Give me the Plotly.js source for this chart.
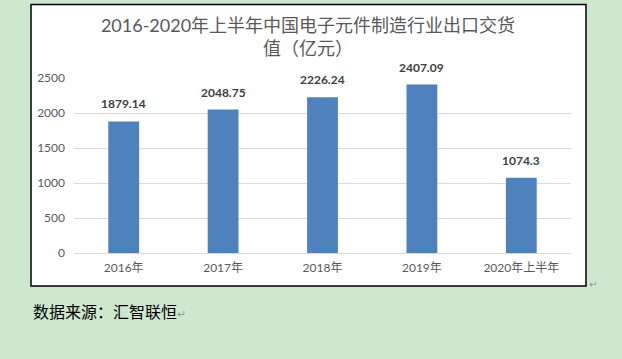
<!DOCTYPE html>
<html>
<head>
<meta charset="utf-8">
<script src="https://cdn.plot.ly/plotly-3.0.1.min.js"></script>
<style>
html,body{margin:0;padding:0;background:#cde8cf;}
#chart{width:622px;height:359px;}
</style>
</head>
<body>
<div id="chart"></div>
<script>
var categories = ["2016年", "2017年", "2018年", "2019年", "2020年上半年"];
var values = [1879.14, 2048.75, 2226.24, 2407.09, 1074.3];
var labels = ["1879.14", "2048.75", "2226.24", "2407.09", "1074.3"];
var yTicks = [0, 500, 1000, 1500, 2000, 2500];

var W = 622, H = 359;
var PL = 74, PR = 571, PT = 78, PB = 253;
function px(x) { return (x - PL) / (PR - PL); }
function py(y) { return (PB - y) / (PB - PT); }
var fontStack = "Lato, 'Noto Sans CJK SC', sans-serif";

var trace = {
  type: "bar",
  x: categories,
  y: values,
  marker: {color: "#4f81bd"},
  hoverinfo: "none"
};

var annotations = categories.map(function (c, i) {
  return {
    x: c, y: values[i], xref: "x", yref: "y",
    text: "<b>" + labels[i] + "</b>",
    showarrow: false, yanchor: "bottom", yshift: 8,
    font: {family: fontStack, size: 12, color: "#404040"}
  };
});
annotations.push({
  x: px(31), y: py(311), xref: "paper", yref: "paper",
  xanchor: "left", yanchor: "middle", showarrow: false,
  text: "数据来源：汇智联恒<span style='color:#999999;font-size:11px'>↵</span>",
  font: {family: "'Noto Sans CJK SC', sans-serif", size: 16, color: "#000000"}
});
annotations.push({
  x: px(587), y: py(284), xref: "paper", yref: "paper",
  xanchor: "left", yanchor: "middle", showarrow: false,
  text: "↵",
  font: {family: "'DejaVu Sans', sans-serif", size: 10, color: "#999999"}
});

var layout = {
  width: W, height: H,
  paper_bgcolor: "#cde8cf",
  plot_bgcolor: "#ffffff",
  margin: {l: PL, r: W - PR, t: PT, b: H - PB, pad: 0},
  bargap: 0.69,
  showlegend: false,
  title: {
    text: "2016-2020年上半年中国电子元件制造行业出口交货<br>值（亿元）",
    x: 308 / W, xanchor: "center", xref: "container",
    y: 1 - 32 / H, yanchor: "top", yref: "container",
    font: {family: fontStack, size: 18, color: "#595959"}
  },
  xaxis: {
    type: "category",
    showgrid: false, zeroline: false, showline: false,
    ticks: "", ticklabelstandoff: 6,
    tickfont: {family: fontStack, size: 12, color: "#595959"},
    fixedrange: true
  },
  yaxis: {
    range: [0, 2500],
    tickvals: yTicks,
    showgrid: true, gridcolor: "#d9d9d9", gridwidth: 1,
    zeroline: true, zerolinecolor: "#d9d9d9", zerolinewidth: 1,
    showline: false, ticks: "",
    ticklabelstandoff: 8,
    tickfont: {family: fontStack, size: 12, color: "#595959"},
    fixedrange: true
  },
  shapes: [{
    type: "rect", xref: "paper", yref: "paper", layer: "below",
    x0: px(31), x1: px(586),
    y0: py(286), y1: py(4.5),
    fillcolor: "#ffffff", line: {color: "#000000", width: 1.5}
  }],
  annotations: annotations
};

Plotly.newPlot("chart", [trace], layout, {displayModeBar: false, staticPlot: true});
</script>
</body>
</html>
